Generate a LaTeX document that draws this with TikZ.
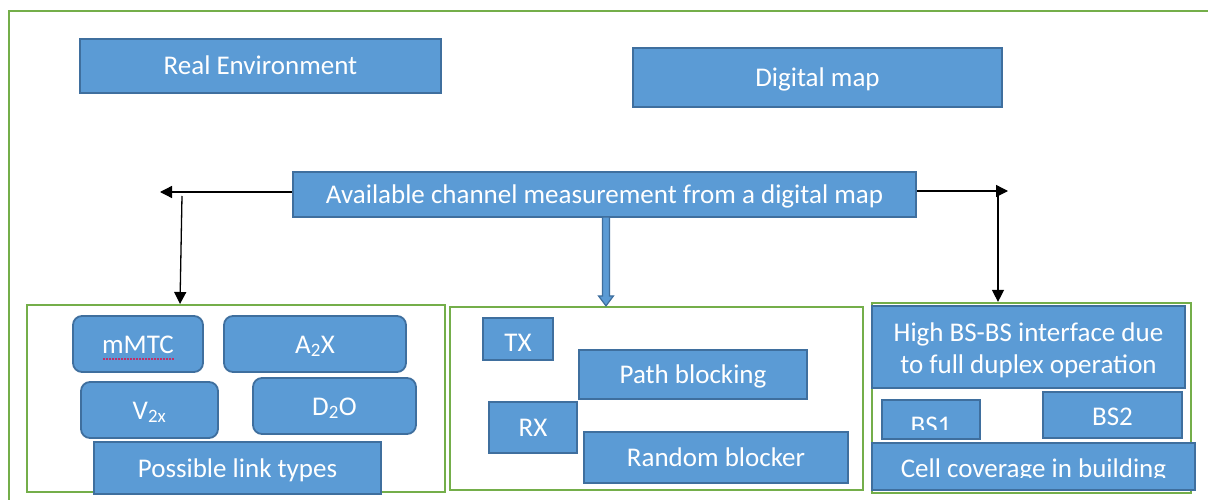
\documentclass[tikz,border=0pt]{standalone}
\usepackage{fontspec}
\setmainfont{Carlito}
\usetikzlibrary{arrows.meta,calc}
\definecolor{boxfill}{HTML}{5B9BD5}
\definecolor{boxedge}{HTML}{3F6F9E}
\definecolor{framegreen}{HTML}{74AE4A}
\definecolor{squiggle}{HTML}{C0306A}
\tikzset{
  box/.style={draw=boxedge, fill=boxfill, line width=1.8pt, text=white,
    font=\fontsize{27}{31}\selectfont, inner sep=0pt, align=center,
    text height=20pt, text depth=2pt},
  rbox/.style={box, rounded corners=9pt},
  boxtext/.style={text=white, font=\fontsize{27}{31}\selectfont, inner sep=0pt, anchor=base},
  group/.style={draw=framegreen, line width=2.2pt},
  link/.style={black, line width=1.3pt, -{Triangle[length=12pt,width=12pt]}},
}
\begin{document}
\begin{tikzpicture}[x=1pt,y=-1pt]
\useasboundingbox (0,0) rectangle (1208,500);
\clip (0,0) rectangle (1208,500);
\fill[white] (0,0) rectangle (1208,500);

% outer frame
\draw[framegreen, line width=2.6pt] (9,11) rectangle (1240,530);

% top row
\node[box, minimum width=361pt, minimum height=54pt] (real) at (260.5,66) {Real Environment};
\node[box, minimum width=369pt, minimum height=59pt] (dmap) at (817.5,77.5) {Digital map};

% central box (text cut at the lower edge)
\node[box, minimum width=623pt, minimum height=45pt] (avail) at (604.5,194.5) {};
\begin{scope}
  \clip (293,172) rectangle (916,208.5);
  \node[boxtext] (availtext) at (604.5,204) {Available channel measurement from a digital map};
\end{scope}

% three groups
\node[group, minimum width=418pt, minimum height=187pt, inner sep=0pt] (gleft) at (236,398.5) {};
\node[group, minimum width=413pt, minimum height=183pt, inner sep=0pt] (gmid) at (656.5,398.5) {};
\node[group, minimum width=319pt, minimum height=190pt, inner sep=0pt] (gright) at (1031.5,398) {};

% left group: link types
\node[rbox, minimum width=130pt, minimum height=56pt] (mmtc) at (138,344) {mMTC};
\draw[squiggle, line width=1.3pt, dash pattern=on 1.5pt off 1.5pt] (103,359) -- (174,359);
\node[rbox, minimum width=182pt, minimum height=56pt] (a2x) at (315,344) {A\textsubscript{2}X};
\node[rbox, minimum width=137pt, minimum height=56pt] (v2x) at (149.5,410) {V\textsubscript{2x}};
\node[rbox, minimum width=163pt, minimum height=56pt] (d2o) at (334.5,406) {D\textsubscript{2}O};
\node[box, minimum width=287pt, minimum height=52pt] (links) at (237.5,468) {Possible link types};

% middle group: blocking
\node[box, minimum width=70pt, minimum height=42pt] (tx) at (518,339) {};
\node[boxtext] (txtext) at (518,351) {TX};
\node[box, minimum width=228pt, minimum height=49pt] (path) at (693,374.5) {Path blocking};
\node[box, minimum width=88pt, minimum height=51pt] (rx) at (533,427.5) {RX};
\node[box, minimum width=264pt, minimum height=51pt] (random) at (716,457.5) {Random blocker};

% right group: base stations
\node[box, minimum width=313pt, minimum height=82pt] (high) at (1028.5,347) {};
\node[boxtext, anchor=center, align=center, font=\fontsize{27}{32}\selectfont] (hightext) at (1028.5,350)
  {High BS-BS interface due\\to full duplex operation};
\node[box, minimum width=98pt, minimum height=39pt] (bsone) at (931,419.5) {};
\begin{scope}
  \clip (882,400) rectangle (980,429.5);
  \node[boxtext] (bsonetext) at (931,434) {BS1};
\end{scope}
\node[box, minimum width=139pt, minimum height=46pt] (bstwo) at (1112.5,415) {};
\node[boxtext] (bstwotext) at (1112.5,425.5) {BS2};
\node[box, minimum width=323pt, minimum height=47pt] (cell) at (1033.5,466.5) {};
\begin{scope}
  \clip (872,443) rectangle (1195,477.5);
  \node[boxtext] (celltext) at (1033.5,477.5) {Cell coverage in building};
\end{scope}

% connectors
\coordinate (lefttip) at (160,192);
\coordinate (lefttop) at (182,196);
\coordinate (righttip) at (1008,191);
\coordinate (righttop) at (998,194);
\draw[link] (avail.west |- lefttip) -- (lefttip);
\draw[link] (lefttop) -- (180,304);
\draw[link] (avail.east |- righttip) -- (righttip);
\draw[link] (righttop) -- (righttop |- gright.north);

% block arrow to the middle group
\coordinate (ms) at (606,217);
\coordinate (me) at (ms |- gmid.north);
\filldraw[fill=boxfill, draw=boxedge, line width=1.2pt, line join=miter]
  ($(ms)+(-3.5,0)$) -- ($(me)+(-3.5,-10)$) -- ($(me)+(-7.5,-10)$) -- (me)
  -- ($(me)+(7.5,-10)$) -- ($(me)+(3.5,-10)$) -- ($(ms)+(3.5,0)$) -- cycle;
\end{tikzpicture}
\end{document}
